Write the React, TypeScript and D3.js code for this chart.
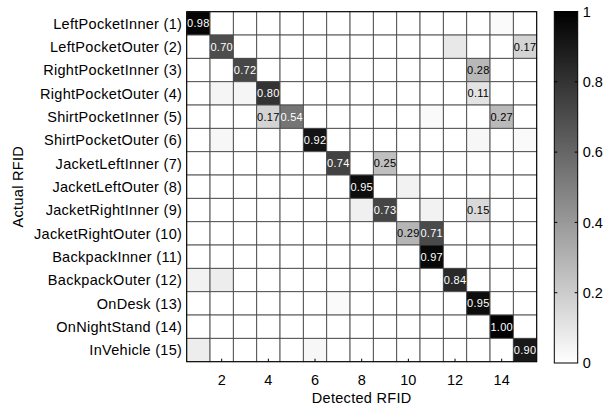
import React from "react";
import * as d3 from "d3";

const rowLabels = [
  "LeftPocketInner (1)",
  "LeftPocketOuter (2)",
  "RightPocketInner (3)",
  "RightPocketOuter (4)",
  "ShirtPocketInner (5)",
  "ShirtPocketOuter (6)",
  "JacketLeftInner (7)",
  "JacketLeftOuter (8)",
  "JacketRightInner (9)",
  "JacketRightOuter (10)",
  "BackpackInner (11)",
  "BackpackOuter (12)",
  "OnDesk (13)",
  "OnNightStand (14)",
  "InVehicle (15)",
];

const colIds = d3.range(1, 16);
const xTicks = [2, 4, 6, 8, 10, 12, 14];
const cbTicks = [0, 0.2, 0.4, 0.6, 0.8, 1];

// confusion matrix, rows = actual, cols = detected
const matrix = [
  [0.98, 0, 0, 0, 0, 0, 0, 0, 0, 0, 0, 0, 0, 0.02, 0],
  [0, 0.7, 0, 0, 0, 0, 0, 0, 0, 0, 0, 0.09, 0, 0, 0.17],
  [0, 0, 0.72, 0, 0, 0, 0, 0, 0, 0, 0, 0, 0.28, 0, 0],
  [0, 0.04, 0.04, 0.8, 0, 0, 0, 0, 0, 0, 0, 0, 0.11, 0, 0],
  [0, 0, 0, 0.17, 0.54, 0, 0, 0, 0, 0, 0.02, 0, 0, 0.27, 0],
  [0, 0.03, 0, 0, 0, 0.92, 0, 0, 0, 0, 0, 0, 0.03, 0, 0.02],
  [0, 0, 0, 0, 0, 0, 0.74, 0, 0.25, 0, 0, 0, 0, 0, 0],
  [0, 0, 0, 0, 0, 0, 0, 0.95, 0, 0.05, 0, 0, 0, 0, 0],
  [0, 0, 0, 0, 0, 0, 0, 0.06, 0.73, 0, 0.05, 0, 0.15, 0, 0],
  [0, 0, 0, 0, 0, 0, 0, 0, 0, 0.29, 0.71, 0, 0, 0, 0],
  [0, 0, 0, 0, 0, 0, 0, 0, 0, 0, 0.97, 0, 0, 0, 0],
  [0.05, 0.07, 0, 0, 0, 0, 0, 0, 0, 0, 0, 0.84, 0, 0, 0],
  [0, 0, 0, 0, 0, 0, 0.02, 0, 0, 0, 0, 0, 0.95, 0, 0],
  [0, 0, 0, 0, 0, 0, 0, 0, 0, 0, 0, 0, 0, 1.0, 0],
  [0.07, 0, 0, 0, 0, 0.03, 0, 0, 0, 0, 0, 0, 0, 0, 0.9],
];

const font = "'Liberation Sans', Arial, sans-serif";
const labelSize = 14.5;
const labelSpacing = 0.3;

export default function App() {
  const W = 604;
  const H = 408;
  const margin = { left: 186.7, top: 11.7, right: 67.3, bottom: 46.3 };
  const gw = W - margin.left - margin.right;
  const gh = H - margin.top - margin.bottom;

  const x = d3.scaleBand<number>().domain(colIds).range([0, gw]);
  const y = d3.scaleBand<number>().domain(d3.range(rowLabels.length)).range([0, gh]);
  const shade = (v: number) => {
    const g = Math.round(255 * (1 - v));
    return d3.rgb(g, g, g).toString();
  };

  const cb = { x: 554.3, y: 11.5, w: 23.4, h: 351.5 };
  const cbScale = d3.scaleLinear().domain([0, 1]).range([cb.y + cb.h, cb.y]);

  return (
    <svg
      width={W}
      height={H}
      style={{ position: "absolute", left: 0, top: 0, background: "#fff", fontFamily: font }}
    >
      <defs>
        <linearGradient id="cbGrad" x1="0" y1="1" x2="0" y2="0">
          <stop offset="0%" stopColor="#fff" />
          <stop offset="100%" stopColor="#000" />
        </linearGradient>
      </defs>
      <g transform={`translate(${margin.left},${margin.top})`}>
        {matrix.map((row, i) =>
          row.map((v, j) => (
            <rect
              key={`c${i}-${j}`}
              x={x(j + 1)}
              y={y(i)}
              width={x.bandwidth()}
              height={y.bandwidth()}
              fill={shade(v)}
              stroke="#4a4a4a"
              strokeWidth={0.9}
            />
          ))
        )}
        {matrix.map((row, i) =>
          row.map((v, j) =>
            v >= 0.1 ? (
              <text
                key={`t${i}-${j}`}
                x={(x(j + 1) as number) + x.bandwidth() / 2}
                y={(y(i) as number) + y.bandwidth() / 2}
                dy="0.36em"
                textAnchor="middle"
                fontSize={11}
                letterSpacing={0.3}
                fill={v > 0.5 ? "#fff" : "#000"}
              >
                {v.toFixed(2)}
              </text>
            ) : null
          )
        )}
        <rect x={0} y={0} width={gw} height={gh} fill="none" stroke="#000" strokeWidth={1} />
        {xTicks.map((t) => (
          <g key={`xt${t}`}>
            <line
              x1={(x(t) as number) + x.bandwidth() / 2}
              x2={(x(t) as number) + x.bandwidth() / 2}
              y1={gh}
              y2={gh - 3}
              stroke="#000"
            />
            <text
              x={(x(t) as number) + x.bandwidth() / 2}
              y={gh + 23}
              textAnchor="middle"
              fontSize={labelSize}
              fill="#000"
            >
              {t}
            </text>
          </g>
        ))}
        {rowLabels.map((lab, i) => (
          <text
            key={`yl${i}`}
            x={-4.5}
            y={(y(i) as number) + y.bandwidth() / 2}
            dy="0.36em"
            textAnchor="end"
            fontSize={labelSize}
            letterSpacing={labelSpacing}
            fill="#000"
          >
            {lab}
          </text>
        ))}
        <text
          x={gw / 2}
          y={gh + 41}
          textAnchor="middle"
          fontSize={labelSize}
          letterSpacing={labelSpacing}
          fill="#000"
        >
          Detected RFID
        </text>
        <text
          transform={`translate(${-margin.left + 23},${gh / 2}) rotate(-90)`}
          textAnchor="middle"
          fontSize={labelSize}
          letterSpacing={labelSpacing}
          fill="#000"
        >
          Actual RFID
        </text>
      </g>
      <rect x={cb.x} y={cb.y} width={cb.w} height={cb.h} fill="url(#cbGrad)" stroke="#000" strokeWidth={1} />
      {cbTicks.map((t) => (
        <g key={`cb${t}`}>
          {t > 0 && t < 1 ? (
            <>
              <line x1={cb.x} x2={cb.x + 3} y1={cbScale(t)} y2={cbScale(t)} stroke="#000" />
              <line x1={cb.x + cb.w} x2={cb.x + cb.w - 3} y1={cbScale(t)} y2={cbScale(t)} stroke="#000" />
            </>
          ) : null}
          <text x={cb.x + cb.w + 5} y={cbScale(t)} dy="0.36em" fontSize={labelSize} fill="#000">
            {String(t)}
          </text>
        </g>
      ))}
    </svg>
  );
}
